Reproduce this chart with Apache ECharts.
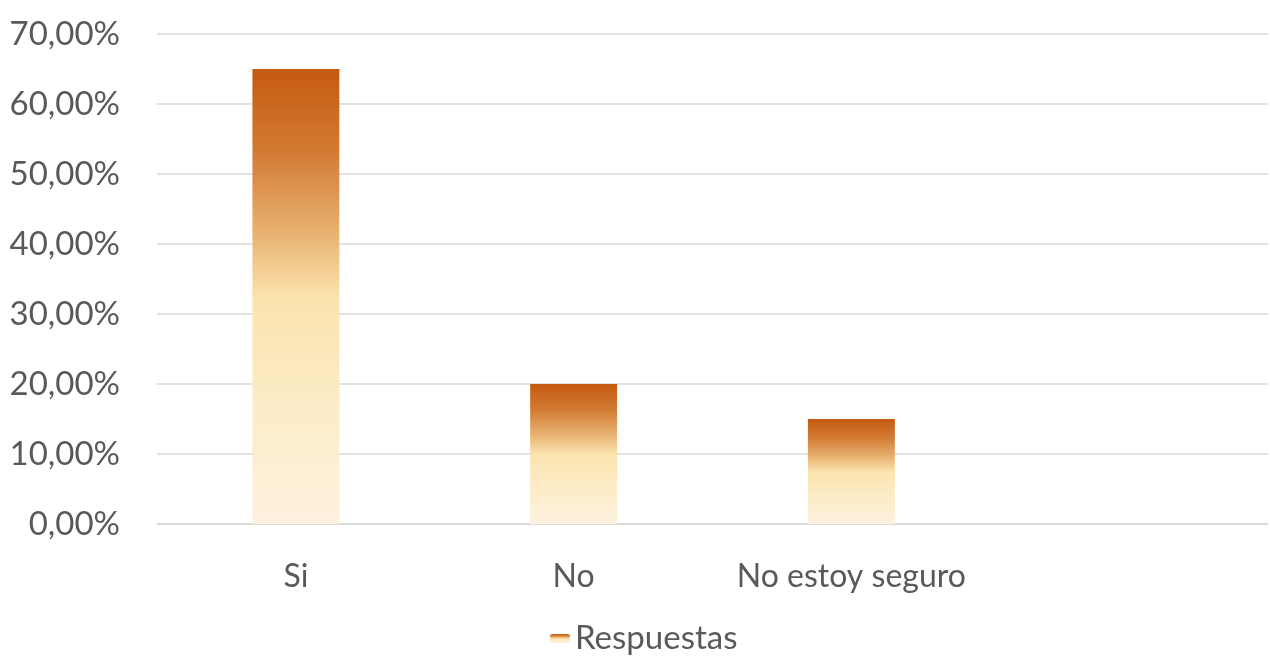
<!DOCTYPE html>
<html>
<head>
<meta charset="utf-8">
<script src="https://cdn.jsdelivr.net/npm/echarts@6/dist/echarts.min.js"></script>
<style>html,body{margin:0;padding:0;background:#fff;}#c{width:1270px;height:662px;}</style>
</head>
<body>
<div id="c"></div>
<script>
const categories = ['Si', 'No', 'No estoy seguro', ''];
const respuestas = [65, 20, 15, null];
const seriesName = 'Respuestas';

const chart = echarts.init(document.getElementById('c'));
const grad = new echarts.graphic.LinearGradient(0, 0, 0, 1, [
  {offset: 0, color: '#c55a11'},
  {offset: 0.18, color: '#d27a33'},
  {offset: 0.38, color: '#eab878'},
  {offset: 0.5, color: '#fbe3ad'},
  {offset: 0.75, color: '#fcecc8'},
  {offset: 1, color: '#fdf1de'}
]);
const font = 'Lato, "Open Sans", sans-serif';
chart.setOption({
  animation: false,
  textStyle: {fontFamily: font},
  grid: {left: 157, right: 2, top: 34, bottom: 138},
  legend: {
    top: 622, left: 550, padding: 0,
    itemWidth: 20, itemHeight: 9, itemGap: 10,
    textStyle: {fontSize: 33, color: '#595959', fontFamily: font},
    data: [seriesName]
  },
  xAxis: {
    type: 'category', data: categories,
    axisLine: {lineStyle: {color: '#d9d9d9', width: 1.5}},
    axisTick: {show: false},
    axisLabel: {fontSize: 32, color: '#595959', margin: 37, fontFamily: font, interval: 0},
  },
  yAxis: {
    type: 'value', min: 0, max: 70, interval: 10,
    axisLine: {show: false}, axisTick: {show: false},
    splitLine: {lineStyle: {color: '#d9d9d9', width: 1.5}},
    axisLabel: {fontSize: 33, color: '#595959', margin: 37, fontFamily: font,
      formatter: v => v.toFixed(2).replace('.', ',') + '%'}
  },
  series: [{
    name: seriesName, type: 'bar', data: respuestas, barWidth: '31.3%',
    itemStyle: {color: grad}
  }]
});
</script>
</body>
</html>
